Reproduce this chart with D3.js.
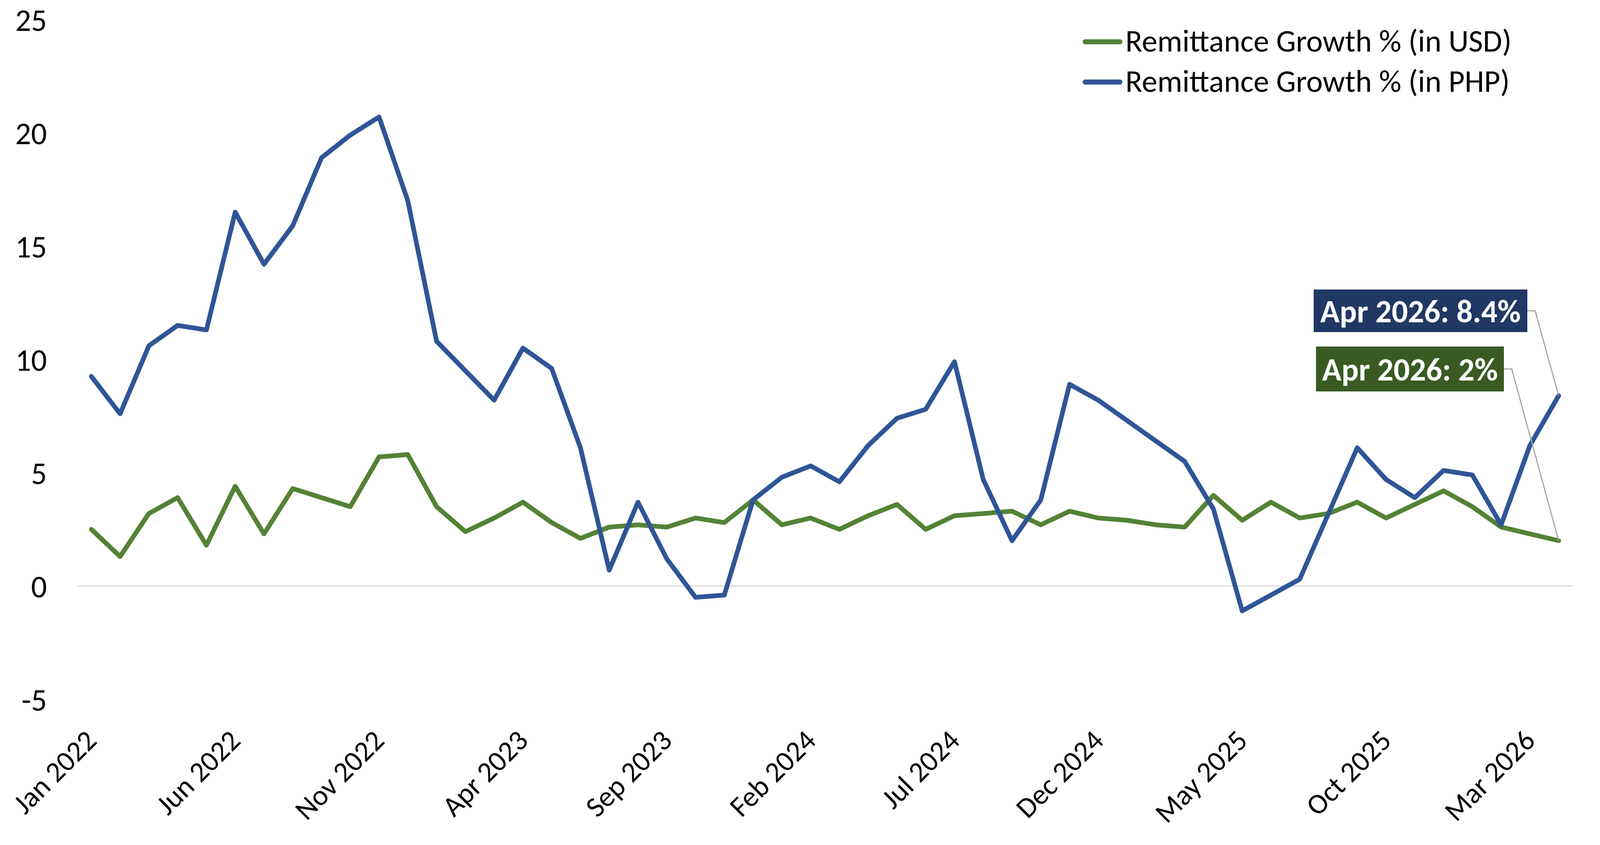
<!DOCTYPE html>
<html>
<head>
<meta charset="utf-8">
<script src="https://cdn.jsdelivr.net/npm/d3@7"></script>
<style>
  body { margin: 0; background: #fff; }
  svg { display: block; font-family: Carlito, Lato, sans-serif; }
  .axis text { fill: #000; }
</style>
</head>
<body>
<svg id="chart"></svg>
<script>
// data
const monthNames = ['Jan','Feb','Mar','Apr','May','Jun','Jul','Aug','Sep','Oct','Nov','Dec'];
const years = [2022, 2023, 2024, 2025, 2026];
const months = [];
years.forEach(yr => monthNames.forEach(m => { if (months.length < 52) months.push(`${m} ${yr}`); }));

const usdGrowth = [
  2.5, 1.3, 3.2, 3.9, 1.8, 4.4, 2.3, 4.3, 3.9, 3.5, 5.7, 5.8,
  3.5, 2.4, 3.0, 3.7, 2.8, 2.1, 2.6, 2.7, 2.6, 3.0, 2.8, 3.8,
  2.7, 3.0, 2.5, 3.1, 3.6, 2.5, 3.1, 3.2, 3.3, 2.7, 3.3, 3.0,
  2.9, 2.7, 2.6, 4.0, 2.9, 3.7, 3.0, 3.2, 3.7, 3.0, 3.6, 4.2,
  3.5, 2.6, 2.3, 2.0
];
const phpGrowth = [
  9.25, 7.6, 10.6, 11.5, 11.3, 16.5, 14.2, 15.9, 18.9, 19.9, 20.7, 17.0,
  10.8, 9.5, 8.2, 10.5, 9.6, 6.1, 0.7, 3.7, 1.2, -0.5, -0.4, 3.8,
  4.8, 5.3, 4.6, 6.2, 7.4, 7.8, 9.9, 4.7, 2.0, 3.8, 8.9, 8.2,
  7.3, 6.4, 5.5, 3.4, -1.1, -0.4, 0.3, 3.2, 6.1, 4.7, 3.9, 5.1,
  4.9, 2.7, 6.2, 8.4
];
const yTicks = [-5, 0, 5, 10, 15, 20, 25];
const seriesNames = ['Remittance Growth % (in USD)', 'Remittance Growth % (in PHP)'];
const labelEvery = 5;

const cfg = {
  width: 4138, height: 2163,
  left: 197, right: 4027, top: 50, bottom: 1790,
  fontSize: 80,
  green: '#548235', blue: '#2f5597',
  greenDark: '#3a5a23', blueDark: '#203864'
};

const svg = d3.select('#chart')
    .attr('width', cfg.width)
    .attr('height', cfg.height);

const x = d3.scalePoint()
    .domain(months)
    .range([cfg.left, cfg.right])
    .padding(0.5);

const y = d3.scaleLinear()
    .domain([-5, 25])
    .range([cfg.bottom, cfg.top]);

// zero line
svg.append('line')
    .attr('x1', cfg.left).attr('x2', cfg.right)
    .attr('y1', y(0)).attr('y2', y(0))
    .attr('stroke', '#d9d9d9')
    .attr('stroke-width', 3);

// y axis (plain hyphen for negatives, like the original)
const yAxis = d3.axisLeft(y)
    .tickValues(yTicks)
    .tickFormat(d => String(d))
    .tickSize(0)
    .tickPadding(0);
svg.append('g')
    .attr('class', 'axis y-axis')
    .attr('transform', 'translate(120,0)')
    .call(yAxis)
    .call(g => g.select('.domain').remove())
    .selectAll('text')
    .attr('dy', '0.36em')
    .style('font-size', cfg.fontSize + 'px');

// x axis, rotated labels at the bottom
const xAxis = d3.axisBottom(x)
    .tickValues(months.filter((d, i) => i % labelEvery === 0))
    .tickSize(0);
svg.append('g')
    .attr('class', 'axis x-axis')
    .attr('transform', 'translate(0,1900)')
    .call(xAxis)
    .call(g => g.select('.domain').remove())
    .selectAll('text')
    .attr('x', 0).attr('y', 0).attr('dy', 0)
    .attr('text-anchor', 'end')
    .attr('transform', 'translate(17,0) rotate(-45)')
    .style('font-size', '74px');

svg.selectAll('.axis').attr('font-family', null).attr('font-size', null);

// lines
const line = d3.line()
    .x((d, i) => x(months[i]))
    .y(d => y(d));

[[usdGrowth, cfg.green], [phpGrowth, cfg.blue]].forEach(([vals, col]) => {
  svg.append('path')
      .datum(vals)
      .attr('d', line)
      .attr('fill', 'none')
      .attr('stroke', col)
      .attr('stroke-width', 12)
      .attr('stroke-linejoin', 'round')
      .attr('stroke-linecap', 'round');
});

// legend
const legend = svg.append('g').attr('transform', 'translate(2772,0)');
[[seriesNames[0], cfg.green, 107], [seriesNames[1], cfg.blue, 210]].forEach(([name, col, ly]) => {
  legend.append('line')
      .attr('x1', 6).attr('x2', 95)
      .attr('y1', ly).attr('y2', ly)
      .attr('stroke', col)
      .attr('stroke-width', 13)
      .attr('stroke-linecap', 'round');
  legend.append('text')
      .attr('x', 109).attr('y', ly - 4)
      .attr('dy', '0.36em')
      .style('font-size', cfg.fontSize + 'px')
      .text(name);
});

// end-point callouts
const last = months.length - 1;
const callouts = [
  { text: `${months[last]}: ${phpGrowth[last]}%`, v: phpGrowth[last], fill: cfg.blueDark,
    box: [3363, 741, 547, 109] },
  { text: `${months[last]}: ${usdGrowth[last]}%`, v: usdGrowth[last], fill: cfg.greenDark,
    box: [3369, 887, 481, 115] }
];
callouts.forEach(c => {
  const [bx, by, bw, bh] = c.box;
  const my = by + bh / 2;
  svg.append('polyline')
      .attr('points', `${bx + bw},${my} ${bx + bw + 20},${my} ${x(months[last])},${y(c.v)}`)
      .attr('fill', 'none')
      .attr('stroke', '#a6a6a6')
      .attr('stroke-width', 3);
  svg.append('rect')
      .attr('x', bx).attr('y', by)
      .attr('width', bw).attr('height', bh)
      .attr('fill', c.fill);
  svg.append('text')
      .attr('x', bx + bw / 2).attr('y', my)
      .attr('dy', '0.36em')
      .attr('text-anchor', 'middle')
      .attr('fill', '#fff')
      .style('font-weight', 'bold')
      .style('font-size', '82px')
      .text(c.text);
});
</script>
</body>
</html>
